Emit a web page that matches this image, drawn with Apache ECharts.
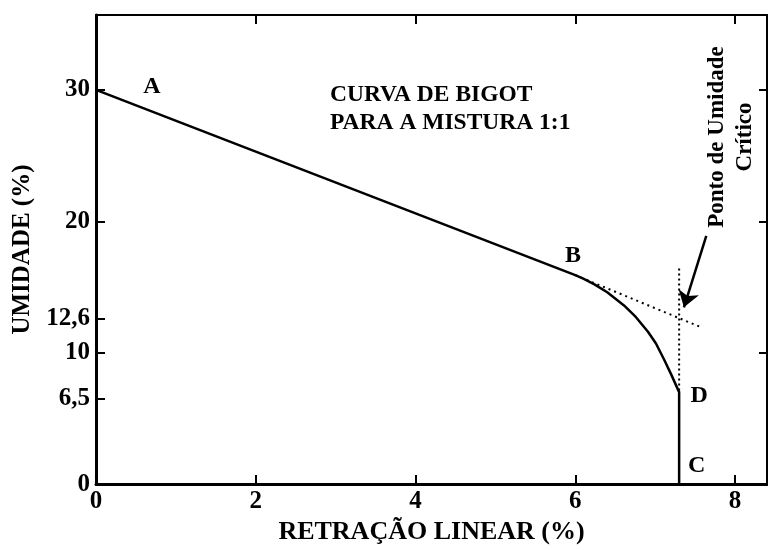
<!DOCTYPE html>
<html>
<head>
<meta charset="utf-8">
<script src="https://cdn.jsdelivr.net/npm/echarts@6/dist/echarts.min.js"></script>
<style>
  html, body { margin: 0; padding: 0; background: #fff; }
  #main { width: 768px; height: 550px; }
</style>
</head>
<body>
<div id="main"></div>
<script>
// curva de Bigot, mistura 1:1
const xTicks = [0, 2, 4, 6, 8]
const yTicks = [0, 6.5, 10, 12.6, 20, 30]
const yTicksRight = [10, 20, 30]

// A -> B reta, B -> D curva, D -> C vertical
const curva = [
  [0, 30], [6.0, 15.9], [6.1, 15.63], [6.24, 15.2], [6.4, 14.6], [6.61, 13.6], [6.76, 12.7],
  [6.91, 11.6], [7.01, 10.7], [7.11, 9.5], [7.2, 8.35], [7.3, 7.0], [7.3, 0],
]
const tangente = [[6.0, 15.9], [7.55, 12.0]]
const vertical = [[7.3, 16.4], [7.3, 7.0]]
const seta = [[7.64, 18.9], [7.36, 13.45]]
const pontos = [
  { name: "A", value: [0.7, 30.2] },
  { name: "B", value: [5.97, 17.4] },
  { name: "D", value: [7.55, 6.7] },
  { name: "C", value: [7.52, 1.4] },
]

const serif = "'Liberation Serif', 'Times New Roman', serif"
const myChart = echarts.init(document.getElementById("main"))

const option = {
  animation: false,
  grid: { left: 96, right: 1, top: 15, bottom: 64 },
  xAxis: [
    {
      type: "value",
      min: 0,
      max: 8.4,
      name: "RETRAÇÃO LINEAR (%)",
      nameLocation: "middle",
      nameGap: 29,
      nameTextStyle: { fontFamily: serif, fontWeight: "bold", fontSize: 26, color: "#000" },
      splitLine: { show: false },
      axisLine: { onZero: false, lineStyle: { color: "#000", width: 3 } },
      axisTick: { inside: true, length: 9, customValues: xTicks, lineStyle: { color: "#000", width: 2 } },
      axisLabel: {
        customValues: xTicks,
        margin: 5,
        fontFamily: serif, fontWeight: "bold", fontSize: 25, color: "#000",
      },
    },
    {
      type: "value",
      position: "top",
      min: 0,
      max: 8.4,
      splitLine: { show: false },
      axisLine: { onZero: false, lineStyle: { color: "#000", width: 2 } },
      axisTick: { inside: true, length: 9, customValues: [2, 4, 6, 8], lineStyle: { color: "#000", width: 2 } },
      axisLabel: { show: false },
    },
  ],
  yAxis: [
    {
      type: "value",
      min: 0,
      max: 35.7,
      name: "UMIDADE (%)",
      nameLocation: "middle",
      nameGap: 58,
      nameTextStyle: { fontFamily: serif, fontWeight: "bold", fontSize: 25, color: "#000" },
      splitLine: { show: false },
      axisLine: { onZero: false, lineStyle: { color: "#000", width: 3 } },
      axisTick: { inside: true, length: 9, customValues: yTicks, lineStyle: { color: "#000", width: 2 } },
      axisLabel: {
        customValues: yTicks,
        margin: 6,
        fontFamily: serif, fontWeight: "bold", fontSize: 25, color: "#000",
        formatter: (v) => String(v).replace(".", ","),
      },
    },
    {
      type: "value",
      position: "right",
      min: 0,
      max: 35.7,
      splitLine: { show: false },
      axisLine: { onZero: false, lineStyle: { color: "#000", width: 2 } },
      axisTick: { inside: true, length: 8, customValues: yTicksRight, lineStyle: { color: "#000", width: 2 } },
      axisLabel: { show: false },
    },
  ],
  series: [
    {
      type: "line",
      data: curva,
      symbol: "none",
      lineStyle: { color: "#000", width: 2.5, join: "round" },
    },
    {
      type: "line",
      data: tangente,
      symbol: "none",
      lineStyle: { color: "#000", width: 2, type: [2, 4] },
    },
    {
      type: "line",
      data: vertical,
      symbol: "none",
      lineStyle: { color: "#000", width: 2, type: [2, 3] },
    },
    {
      type: "lines",
      coordinateSystem: "cartesian2d",
      data: [{ coords: seta }],
      symbol: ["none", "arrow"],
      symbolSize: [0, 16],
      lineStyle: { color: "#000", width: 2.5, opacity: 1 },
    },
    {
      type: "scatter",
      data: pontos,
      symbolSize: 1,
      itemStyle: { color: "transparent", opacity: 1 },
      label: {
        show: true,
        position: "inside",
        formatter: (p) => p.name,
        fontFamily: serif, fontWeight: "bold", fontSize: 24, color: "#000",
      },
    },
  ],
  graphic: [
    {
      type: "text",
      left: 330,
      top: 81,
      style: {
        text: "CURVA DE BIGOT\nPARA A MISTURA 1:1",
        font: "bold 23.5px " + serif,
        lineHeight: 28,
        fill: "#000",
      },
    },
    {
      type: "text",
      x: 731,
      y: 137,
      rotation: Math.PI / 2,
      style: {
        text: "Ponto de Umidade\nCrítico",
        font: "bold 23px " + serif,
        lineHeight: 28,
        align: "center",
        verticalAlign: "middle",
        fill: "#000",
      },
    },
  ],
}

option && myChart.setOption(option)
</script>
</body>
</html>
